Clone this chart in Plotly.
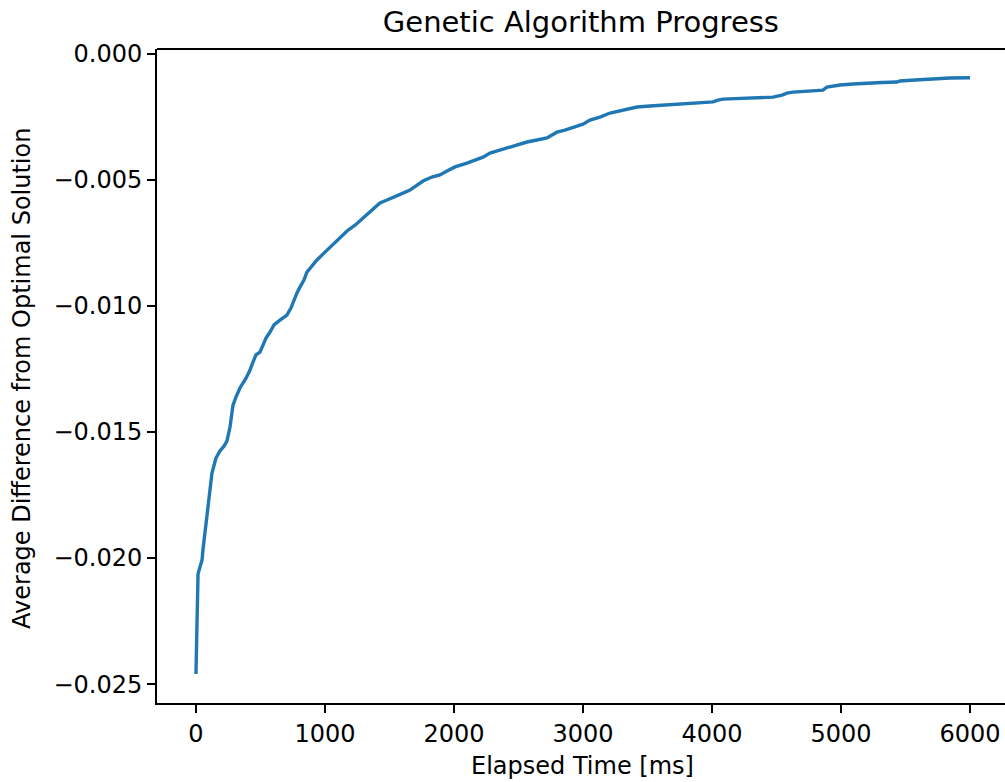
import plotly.graph_objects as go

# Elapsed time (ms) and average difference from the optimal solution
elapsed_ms = [
    0, 4, 8, 16, 31, 47, 54, 70, 93, 109, 124, 155, 186, 217, 240, 264, 287, 310,
    341, 388, 419, 442, 465, 496, 519, 543, 574, 605, 651, 705, 736, 760, 783, 806,
    837, 860, 899, 938, 984, 1039, 1116, 1171, 1233, 1295, 1364, 1426, 1481, 1543,
    1605, 1659, 1721, 1760, 1829, 1891, 1946, 2008, 2101, 2163, 2225, 2279, 2333,
    2395, 2457, 2566, 2643, 2721, 2760, 2798, 2860, 2922, 3000, 3054, 3132, 3209,
    3302, 3419, 3519, 3620, 3729, 3829, 3907, 4008, 4047, 4085, 4178, 4271, 4372,
    4473, 4543, 4581, 4628, 4760, 4860, 4891, 4992, 5093, 5202, 5318, 5434, 5457,
    5574, 5713, 5845, 6000,
]
avg_difference = [
    -0.02460, -0.02325, -0.02167, -0.02063, -0.02036, -0.02008, -0.01968, -0.01901,
    -0.01782, -0.01710, -0.01663, -0.01603, -0.01575, -0.01556, -0.01536, -0.01480,
    -0.01393, -0.01361, -0.01325, -0.01286, -0.01254, -0.01222, -0.01194, -0.01183,
    -0.01159, -0.01127, -0.01103, -0.01075, -0.01056, -0.01036, -0.01008, -0.00976,
    -0.00948, -0.00925, -0.00897, -0.00865, -0.00841, -0.00817, -0.00794, -0.00766,
    -0.00730, -0.00702, -0.00679, -0.00651, -0.00619, -0.00591, -0.00579, -0.00567,
    -0.00552, -0.00540, -0.00520, -0.00504, -0.00488, -0.00480, -0.00464, -0.00448,
    -0.00433, -0.00421, -0.00409, -0.00393, -0.00385, -0.00373, -0.00365, -0.00349,
    -0.00341, -0.00333, -0.00321, -0.00310, -0.00302, -0.00290, -0.00278, -0.00262,
    -0.00250, -0.00234, -0.00222, -0.00210, -0.00206, -0.00202, -0.00198, -0.00194,
    -0.00194, -0.00190, -0.00183, -0.00179, -0.00177, -0.00175, -0.00173, -0.00171,
    -0.00163, -0.00155, -0.00151, -0.00147, -0.00143, -0.00131, -0.00123, -0.00119,
    -0.00115, -0.00113, -0.00111, -0.00107, -0.00103, -0.00099, -0.00095, -0.00094,
]

x_ticks = [0, 1000, 2000, 3000, 4000, 5000, 6000]
y_ticks = [0.000, -0.005, -0.010, -0.015, -0.020, -0.025]
y_tick_text = ["0.000", "\u22120.005", "\u22120.010", "\u22120.015", "\u22120.020", "\u22120.025"]

FONT = "DejaVu Sans"

fig = go.Figure(
    go.Scatter(
        x=elapsed_ms,
        y=avg_difference,
        mode="lines",
        line=dict(color="#1f77b4", width=3.4),
        showlegend=False,
    )
)

axis_common = dict(
    showgrid=False,
    zeroline=False,
    showline=True,
    linecolor="black",
    linewidth=1.8,
    ticks="outside",
    ticklen=8,
    tickwidth=1.6,
    tickcolor="black",
    tickfont=dict(family=FONT, size=24, color="black"),
)

fig.update_xaxes(range=[-302, 6271], tickvals=x_ticks, **axis_common)
fig.update_yaxes(range=[-0.02575, 0.0002], tickvals=y_ticks, ticktext=y_tick_text, **axis_common)

# top spine of the frame
fig.add_shape(type="line", xref="paper", yref="paper", x0=0, x1=1, y0=1, y1=1,
              line=dict(color="black", width=1.8))

fig.add_annotation(text="Elapsed Time [ms]", xref="paper", yref="paper",
                   x=0.502, y=-0.0963, xanchor="center", yanchor="middle",
                   showarrow=False, font=dict(family=FONT, size=24, color="black"))
fig.add_annotation(text="Average Difference from Optimal Solution", xref="paper", yref="paper",
                   x=-0.1592, y=0.497, xanchor="center", yanchor="middle", textangle=-90,
                   showarrow=False, font=dict(family=FONT, size=24, color="black"))

fig.update_layout(
    width=1005,
    height=782,
    margin=dict(l=157, r=0, t=49, b=79),
    paper_bgcolor="white",
    plot_bgcolor="white",
    title=dict(text="Genetic Algorithm Progress", x=0.578, xanchor="center",
               y=1 - 22 / 782, yanchor="middle",
               font=dict(family=FONT, size=29, color="black")),
)

fig.write_html("out.html")
